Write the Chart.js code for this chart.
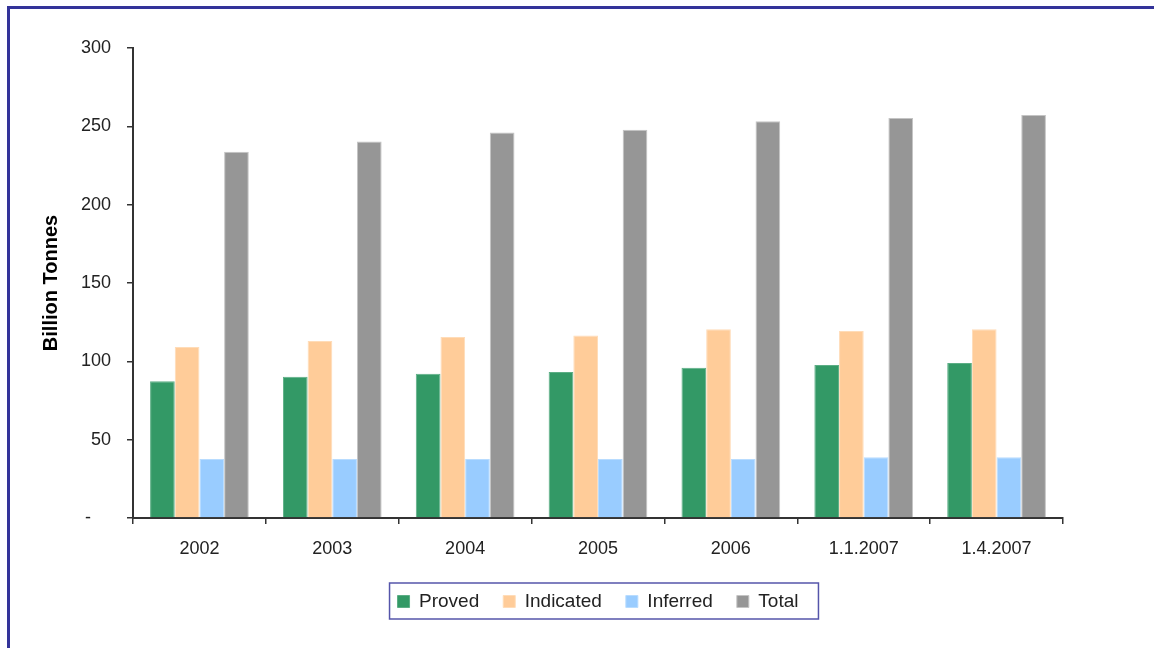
<!DOCTYPE html>
<html>
<head>
<meta charset="utf-8">
<script src="https://cdn.jsdelivr.net/npm/chart.js@4.4.1/dist/chart.umd.min.js"></script>
<style>
  html, body { margin: 0; padding: 0; background: #fff; }
  #wrap { position: relative; width: 1154px; height: 648px; overflow: hidden; }
  #frame { position: absolute; left: 7px; top: 6px; width: 2000px; height: 2000px;
           border-top: 3px solid #333399; border-left: 3px solid #333399; }
  canvas { position: absolute; left: 0; top: 0; }
</style>
</head>
<body>
<div id="wrap">
  <div id="frame"></div>
  <canvas id="reserves-chart" width="1154" height="648"></canvas>
</div>
<script>
// --- Data ---
const periods = ['2002', '2003', '2004', '2005', '2006', '1.1.2007', '1.4.2007'];
const proved = [87.3, 90.2, 92.1, 93.2, 95.9, 97.6, 98.9];
const indicated = [109.1, 113.0, 115.5, 116.5, 120.4, 119.3, 120.4];
const inferred = [37.6, 37.6, 37.6, 37.7, 37.7, 38.7, 38.7];
const total = [233.8, 240.3, 246.1, 247.8, 253.3, 255.3, 257.2];
const yMax = 300;
const yStep = 50;

const textColor = '#222';
const axisColor = '#333';
const fontFamily = 'Arial, "Liberation Sans", sans-serif';

// draws the box round the legend, like the excel one
const legendBorder = {
  id: 'legendBorder',
  afterDraw(chart) {
    const boxes = chart.legend.legendHitBoxes;
    if (!boxes || !boxes.length) return;
    const first = boxes[0];
    const last = boxes[boxes.length - 1];
    const ctx = chart.ctx;
    ctx.save();
    ctx.strokeStyle = '#5555aa';
    ctx.lineWidth = 1.5;
    const left = first.left - 8;
    const right = last.left + last.width + 20;
    const top = first.top - 9;
    const bottom = first.top + first.height + 8;
    ctx.strokeRect(left, top, right - left, bottom - top);
    ctx.restore();
  }
};

const ctx = document.getElementById('reserves-chart').getContext('2d');
new Chart(ctx, {
  type: 'bar',
  data: {
    labels: periods,
    datasets: [
      { label: 'Proved', data: proved, backgroundColor: '#339966', borderColor: '#5cae85', borderWidth: 1 },
      { label: 'Indicated', data: indicated, backgroundColor: '#ffcc99', borderColor: '#ffdcb8', borderWidth: 1 },
      { label: 'Inferred', data: inferred, backgroundColor: '#99ccff', borderColor: '#b8dcff', borderWidth: 1 },
      { label: 'Total', data: total, backgroundColor: '#969696', borderColor: '#c4c4c4', borderWidth: 1 }
    ]
  },
  options: {
    responsive: false,
    animation: false,
    layout: { padding: { left: 35, right: 91, top: 48, bottom: 27 } },
    datasets: {
      bar: { barPercentage: 1.0, categoryPercentage: 0.743 }
    },
    scales: {
      x: {
        grid: { display: true, drawOnChartArea: false, drawTicks: true, tickLength: 6, color: axisColor, lineWidth: 1.5 },
        border: { display: true, color: axisColor, width: 2 },
        ticks: { color: textColor, font: { family: fontFamily, size: 18 }, padding: 14, maxRotation: 0, autoSkip: false },
        afterFit(scale) { scale.height = 50; }
      },
      y: {
        min: 0,
        max: yMax,
        ticks: {
          stepSize: yStep,
          color: textColor,
          font: { family: fontFamily, size: 18 },
          padding: 16,
          callback: v => v === 0 ? '-    ' : String(v)
        },
        grid: { display: true, drawOnChartArea: false, drawTicks: true, tickLength: 6, color: axisColor, lineWidth: 1.5 },
        border: { display: true, color: axisColor, width: 2 },
        title: {
          display: true,
          text: 'Billion Tonnes',
          color: '#000',
          font: { family: fontFamily, size: 20, weight: 'bold' },
          padding: { top: 4, bottom: 4 }
        },
        afterFit(scale) { scale.width = 98; }
      }
    },
    plugins: {
      legend: {
        position: 'bottom',
        fullSize: false,
        labels: {
          color: textColor,
          font: { family: fontFamily, size: 19 },
          boxWidth: 12,
          boxHeight: 12,
          padding: 24
        }
      },
      tooltip: { enabled: false }
    }
  },
  plugins: [legendBorder]
});
</script>
</body>
</html>
